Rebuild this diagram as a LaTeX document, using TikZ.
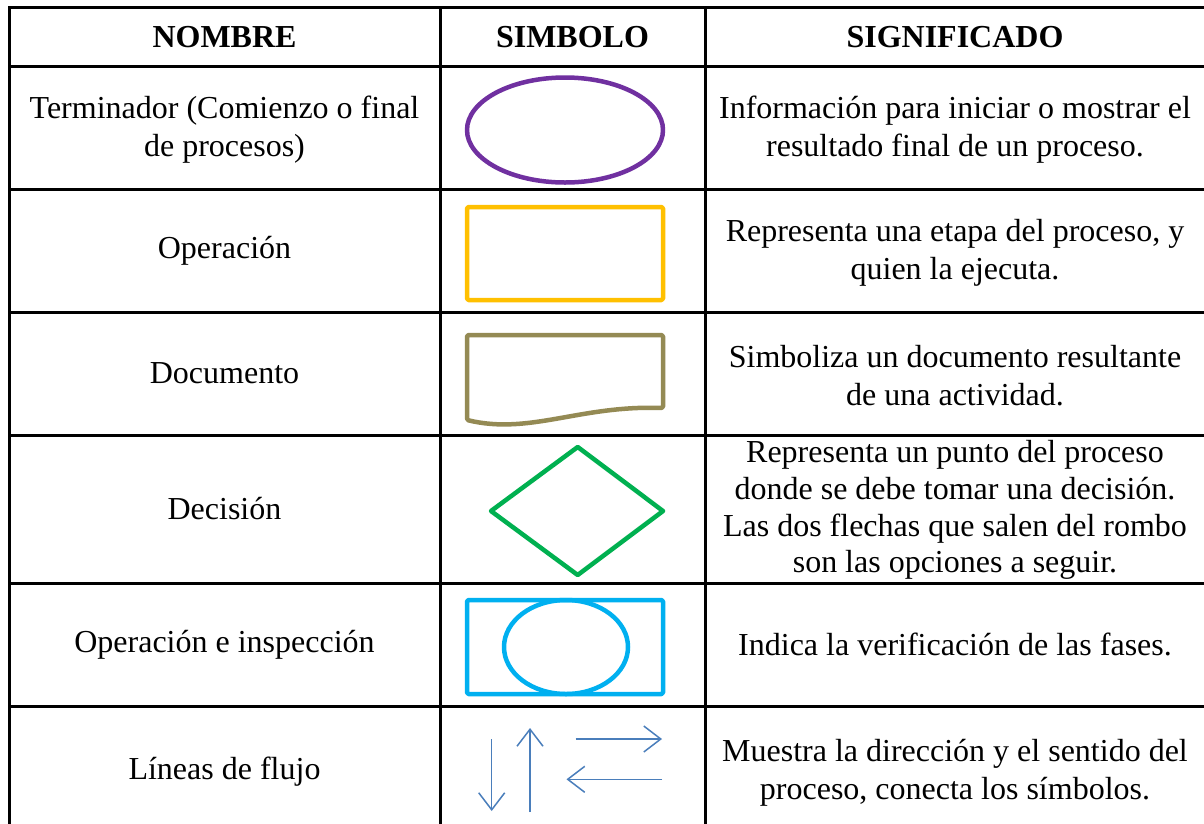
\documentclass[tikz,border=0pt]{standalone}
\usepackage{fontspec}
\setmainfont{Liberation Serif}
\usetikzlibrary{arrows.meta}
\definecolor{cpurple}{HTML}{7030A0}
\definecolor{cyellow}{HTML}{FFC000}
\definecolor{colive}{HTML}{948A54}
\definecolor{cgreen}{HTML}{00B050}
\definecolor{ccyan}{HTML}{00B0F0}
\definecolor{cflow}{HTML}{4A7EBB}
\begin{document}
\begin{tikzpicture}[x=1pt,y=-1pt,
  gridline/.style={line width=3pt,black},
  cell/.style={align=center,inner sep=0pt,font=\fontsize{32}{38.2}\selectfont},
  tight/.style={font=\fontsize{32}{36.7}\selectfont},
  head/.style={align=center,inner sep=0pt,font=\fontsize{32}{38.2}\selectfont\bfseries},
  symb/.style={line width=4.5pt,line join=round},
  flow/.style={draw=cflow,line width=1.5pt,-{Straight Barb[length=17pt,width=26pt]}}]
\useasboundingbox[fill=white] (0,0) rectangle (1204,823);
\begin{scope}
\clip (0,0) rectangle (1204,823);
\draw[gridline] (9,7) rectangle (1205,836);
\foreach \y in {66,189,312,435,583,706} \draw[gridline] (9,\y) -- (1205,\y);
\foreach \x in {440,705} \draw[gridline] (\x,7) -- (\x,836);
\end{scope}
% header
\node[head] (h1) at (224.5,37) {NOMBRE};
\node[head] (h2) at (572.5,37) {SIMBOLO};
\node[head] (h3) at (955,37) {SIGNIFICADO};
% names
\node[cell] (n1) at (224.5,130) {Terminador (Comienzo o final\\de procesos)};
\node[cell] (n2) at (224.5,250.5) {Operación};
\node[cell] (n3) at (224.5,373.5) {Documento};
\node[cell] (n4) at (224.5,509) {Decisión};
\node[cell] (n5) at (224.5,644.5) {Operación e inspección};
\node[cell] (n6) at (224.5,772) {Líneas de flujo};
% meanings
\node[cell] (m1) at (955,130) {Información para iniciar o mostrar el\\resultado final de un proceso.};
\node[cell] (m2) at (955,253) {Representa una etapa del proceso, y\\quien la ejecuta.};
\node[cell] (m3) at (955,376) {Simboliza un documento resultante\\de una actividad.};
\node[cell,tight] (m4) at (955,510) {Representa un punto del proceso\\donde se debe tomar una decisión.\\Las dos flechas que salen del rombo\\son las opciones a seguir.};
\node[cell] (m5) at (955,644.5) {Indica la verificación de las fases.};
\node[cell] (m6) at (955,773) {Muestra la dirección y el sentido del\\proceso, conecta los símbolos.};
% symbols
\draw[symb,cpurple] (565,130) ellipse [x radius=98,y radius=52.5];
\draw[symb,cyellow,rounded corners=1.5pt] (467,207) rectangle (663,300);
\draw[symb,colive,rounded corners=1.5pt] (467,420) -- (467,335) -- (663,335) -- (663,408)
  .. controls (580,405) and (530,435) .. (467,420) -- cycle;
\draw[symb,cgreen] (577.7,447) -- (663,511) -- (577.7,575) -- (491,511) -- cycle;
\draw[symb,ccyan,rounded corners=1.5pt] (467,600) rectangle (663,694);
\draw[symb,ccyan] (566,647) ellipse [x radius=62,y radius=47];
% flow lines
\coordinate (d1) at (491.7,739);
\coordinate (d2) at (491.7,811);
\coordinate (u1) at (530,812);
\coordinate (u2) at (530,728);
\coordinate (r1) at (575.7,739);
\coordinate (r2) at (662,739);
\coordinate (l1) at (662,779.3);
\coordinate (l2) at (566.5,779.3);
\draw[flow] (d1) -- (d2);
\draw[flow] (u1) -- (u2);
\draw[flow] (r1) -- (r2);
\draw[flow] (l1) -- (l2);
\end{tikzpicture}
\end{document}
